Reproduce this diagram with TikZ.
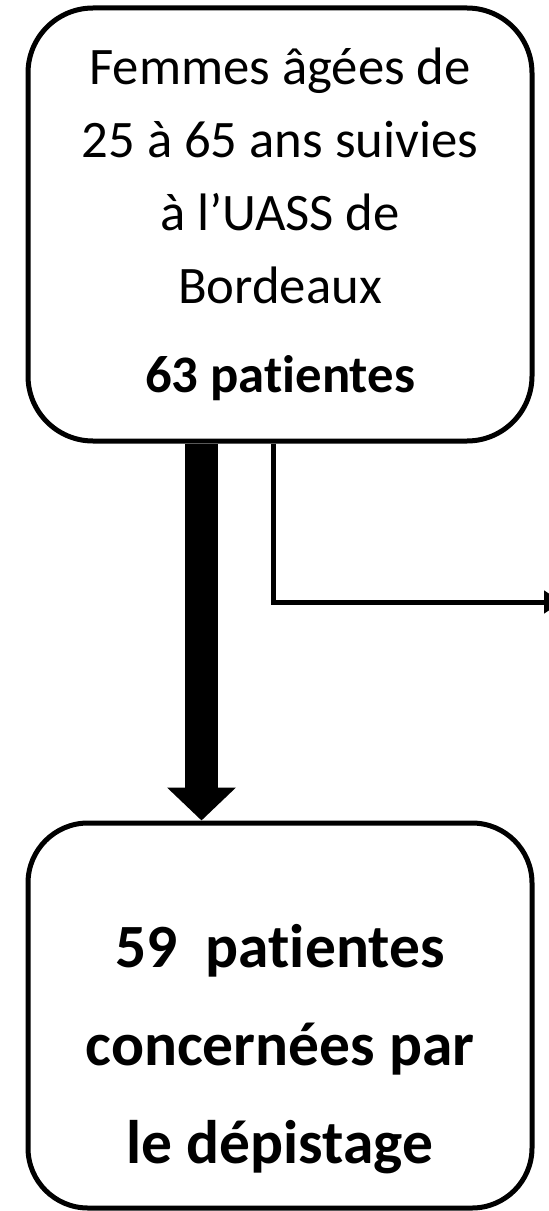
\documentclass[tikz,border=0pt]{standalone}
\usepackage{fontspec}
\setmainfont[Ligatures=NoCommon]{Carlito}
\usepackage{tikz}
\usetikzlibrary{arrows.meta, positioning, calc}

\begin{document}
\begin{tikzpicture}[
  box/.style={draw=black, line width=0.1cm, rounded corners=1.3cm,
              minimum width=10.08cm, inner sep=0pt,
              font=\fontsize{30}{41.5}\selectfont, align=center},
  bigarr/.style={-{Triangle[length=0.66cm, width=1.34cm]}, line width=0.66cm},
  arr/.style={-{Triangle[length=0.36cm, width=0.44cm]}, line width=0.1cm}
]
  \useasboundingbox (0,0) rectangle (10.96,-24.22);

  \node[box, minimum height=8.66cm] (women) at (5.6,-4.49)
    {Femmes âgées de\\25 à 65 ans suivies\\à l’UASS de\\Bordeaux\\[0.32cm]
     \textbf{63 patientes}};
  \node[box, minimum height=7.7cm, rounded corners=1.2cm,
        font=\fontsize{35}{55.8}\selectfont\bfseries] (screened) at (5.6,-20.31)
    {\rule{0pt}{2.2cm}59~~patientes\\concernées par\\le dépistage};
  \coordinate (excluded) at (11.24,-12.04);

  \draw[bigarr] ([xshift=-1.57cm]women.south) -- ([xshift=-1.57cm]screened.north);
  \draw[arr] ([xshift=-0.14cm]women.south) |- (excluded);
\end{tikzpicture}
\end{document}
